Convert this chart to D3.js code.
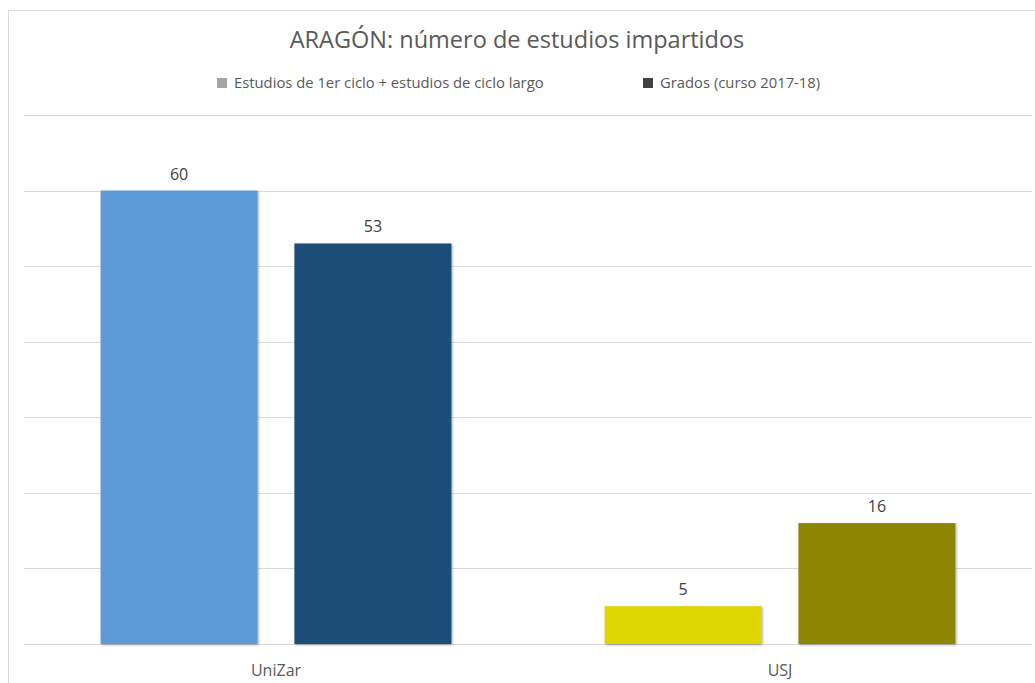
<!DOCTYPE html>
<html>
<head>
<meta charset="utf-8">
<script src="https://cdn.jsdelivr.net/npm/d3@7"></script>
<style>
  body { margin: 0; background: #fff; }
  svg { display: block; font-family: "Open Sans", "Noto Sans", sans-serif; }
</style>
</head>
<body>
<svg id="chart" width="1035" height="683"></svg>
<script>
const categories = ["UniZar", "USJ"];
const seriesNames = ["Estudios de 1er ciclo + estudios de ciclo largo", "Grados (curso 2017-18)"];
const firstCycle = [60, 5];
const grados = [53, 16];
const yTicks = [0, 10, 20, 30, 40, 50, 60, 70];
// colours are set per point in the original, legend keeps the grey defaults
const barColors = [["#5B9BD5", "#1F4E79"], ["#DDD600", "#8B8700"]];
const legendColors = ["#A5A5A5", "#404040"];

const svg = d3.select("#chart");
const width = +svg.attr("width");
const margin = { top: 115, right: 3, bottom: 39, left: 24 };
const plotBottom = 683 - margin.bottom;

// shadow under the bars
const defs = svg.append("defs");
const filt = defs.append("filter").attr("id", "shadow")
  .attr("x", "-10%").attr("y", "-10%").attr("width", "120%").attr("height", "120%");
filt.append("feDropShadow").attr("dx", 1).attr("dy", 1).attr("stdDeviation", 1.2)
  .attr("flood-color", "#000").attr("flood-opacity", 0.35);

// chart frame
svg.append("rect")
  .attr("x", 8.5).attr("y", 10.5)
  .attr("width", 1040).attr("height", 700)
  .attr("fill", "none").attr("stroke", "#d9d9d9");

const x0 = d3.scaleBand().domain(categories)
  .range([margin.left, width - margin.right]);
const groupPad = 0.152 * x0.bandwidth();
const x1 = d3.scaleBand().domain(d3.range(seriesNames.length))
  .range([groupPad, x0.bandwidth() - groupPad])
  .paddingInner(0.19);
const y = d3.scaleLinear().domain([0, 70]).range([plotBottom, margin.top]);

// gridlines
svg.append("g").selectAll("line")
  .data(yTicks).join("line")
  .attr("x1", margin.left).attr("x2", width - margin.right)
  .attr("y1", d => Math.round(y(d)) + 0.5).attr("y2", d => Math.round(y(d)) + 0.5)
  .attr("stroke", "#d9d9d9").attr("stroke-width", 1);

const rows = categories.map((c, i) => ({ cat: c, idx: i, values: [firstCycle[i], grados[i]] }));

const groups = svg.append("g").selectAll("g")
  .data(rows).join("g")
  .attr("transform", d => `translate(${x0(d.cat)},0)`);

groups.selectAll("rect")
  .data(d => d.values.map((v, j) => ({ v, j, idx: d.idx })))
  .join("rect")
  .attr("x", d => x1(d.j))
  .attr("width", x1.bandwidth())
  .attr("y", d => y(d.v))
  .attr("height", d => y(0) - y(d.v))
  .attr("fill", d => barColors[d.idx][d.j])
  .attr("filter", "url(#shadow)");

groups.selectAll("text.val")
  .data(d => d.values.map((v, j) => ({ v, j })))
  .join("text").attr("class", "val")
  .attr("x", d => x1(d.j) + x1.bandwidth() / 2)
  .attr("y", d => y(d.v) - 11)
  .attr("text-anchor", "middle")
  .attr("font-size", 16).attr("fill", "#404040")
  .text(d => d.v);

// category axis
const xAxis = svg.append("g")
  .attr("transform", `translate(0,${plotBottom})`)
  .call(d3.axisBottom(x0).tickSize(0).tickPadding(0));
xAxis.select(".domain").remove();
xAxis.selectAll("text")
  .attr("dy", null).attr("y", 32)
  .attr("font-size", 16).attr("fill", "#595959")
  .attr("font-family", "'Open Sans', sans-serif");

// title
svg.append("text")
  .attr("x", 517).attr("y", 48)
  .attr("text-anchor", "middle")
  .attr("font-size", 23.5).attr("fill", "#595959")
  .text("ARAGÓN: número de estudios impartidos");

// legend
const legendX = [217, 643];
const legend = svg.append("g").selectAll("g")
  .data(seriesNames).join("g")
  .attr("transform", (d, i) => `translate(${legendX[i]},83)`);
legend.append("rect")
  .attr("x", 0).attr("y", -5).attr("width", 10).attr("height", 10)
  .attr("fill", (d, i) => legendColors[i]);
legend.append("text")
  .attr("x", 17).attr("y", 5)
  .attr("font-size", 14.8).attr("fill", "#595959")
  .text(d => d);
</script>
</body>
</html>
